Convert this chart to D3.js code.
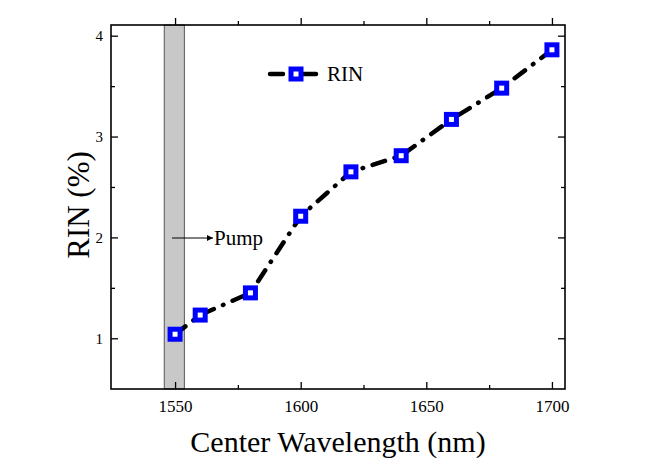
<!DOCTYPE html>
<html><head><meta charset="utf-8">
<script src="https://cdn.jsdelivr.net/npm/d3@7"></script>
<style>body{margin:0;background:#fff}svg{display:block}text{font-family:"Liberation Serif","Times New Roman",serif !important}</style>
</head><body><svg id="c" width="659" height="476"></svg>
<script>
const wavelengths = [1550, 1560, 1580, 1600, 1620, 1640, 1660, 1680, 1700];
const rinValues = [1.04, 1.23, 1.45, 2.21, 2.65, 2.81, 3.17, 3.48, 3.86];
const xTicks = [1550, 1600, 1650, 1700];
const xMinor = [1575, 1625, 1675];
const yTicks = [1, 2, 3, 4];
const yMinor = [1.5, 2.5, 3.5];
const pumpBand = [1545.7, 1553.7];
const seriesName = "RIN";

const svg = d3.select("#c");
const L = 111, R = 565, T = 25, B = 389;
const x = d3.scaleLinear().domain([1524.5, 1705.2]).range([L, R]);
const y = d3.scaleLinear().domain([0.497, 4.106]).range([B, T]);

// pump band
svg.append("rect").attr("x", x(pumpBand[0])).attr("y", T).attr("width", x(pumpBand[1]) - x(pumpBand[0])).attr("height", B - T)
  .attr("fill", "#c8c8c8").attr("stroke", "#555").attr("stroke-width", 1);

// axes (ticks inward)
const g = svg.append("g");
function ax(axisGen, tx, ty, vals, len, pad, fs, fmt) {
  const a = g.append("g").attr("transform", `translate(${tx},${ty})`)
    .call(axisGen.tickValues(vals).tickSize(len).tickPadding(pad).tickFormat(fmt));
  a.select(".domain").remove();
  a.selectAll("line").attr("stroke", "#000").attr("stroke-width", 1.3);
  a.selectAll("text").attr("font-size", fs).attr("fill", "#000");
  return a;
}
const none = () => "";
ax(d3.axisBottom(x), 0, B, xTicks, -7, 11, 17, d3.format("d"));
ax(d3.axisBottom(x), 0, B, xMinor, -4, 11, 17, none);
ax(d3.axisTop(x), 0, T, xTicks, 7, 3, 17, none);
ax(d3.axisTop(x), 0, T, xMinor, 4, 3, 17, none);
ax(d3.axisLeft(y), L, 0, yTicks, -7, 8, 15, d3.format("d"));
ax(d3.axisLeft(y), L, 0, yMinor, -4, 8, 15, none);
ax(d3.axisRight(y), R, 0, yTicks, -7, 3, 15, none);
ax(d3.axisRight(y), R, 0, yMinor, -4, 3, 15, none);

// frame
svg.append("rect").attr("x", L).attr("y", T).attr("width", R - L).attr("height", B - T)
  .attr("fill", "none").attr("stroke", "#000").attr("stroke-width", 1.6);

// line
const data = wavelengths.map((w, i) => ({w, v: rinValues[i]}));
svg.append("path").datum(data)
  .attr("d", d3.line().x(d => x(d.w)).y(d => y(d.v)))
  .attr("fill", "none").attr("stroke", "#000").attr("stroke-width", 4.5)
  .attr("stroke-linecap", "round").attr("stroke-dasharray", "13,10,0.5,10");

// markers
const ms = 10;
svg.append("g").selectAll("rect").data(data).join("rect")
  .attr("x", d => x(d.w) - ms / 2).attr("y", d => y(d.v) - ms / 2)
  .attr("width", ms).attr("height", ms)
  .attr("fill", "#fff").attr("stroke", "#0000ff").attr("stroke-width", 5);

// legend
const lg = svg.append("g");
lg.append("line").attr("x1", 270).attr("x2", 322).attr("y1", 74).attr("y2", 74)
  .attr("stroke", "#000").attr("stroke-width", 4.5).attr("stroke-linecap", "round").attr("stroke-dasharray", "13,20");
lg.append("rect").attr("x", 296 - ms / 2).attr("y", 74 - ms / 2).attr("width", ms).attr("height", ms)
  .attr("fill", "#fff").attr("stroke", "#0000ff").attr("stroke-width", 5);
lg.append("text").attr("x", 327).attr("y", 81).attr("font-size", 21).text(seriesName);

// pump annotation
svg.append("defs").append("marker").attr("id", "ah").attr("viewBox", "0 0 10 10").attr("refX", 10).attr("refY", 5)
  .attr("markerWidth", 10).attr("markerHeight", 6).attr("markerUnits", "userSpaceOnUse").attr("orient", "auto")
  .append("path").attr("d", "M0,0 L10,5 L0,10 Z").attr("fill", "#000");
svg.append("line").attr("x1", 172).attr("x2", 213).attr("y1", 238).attr("y2", 238)
  .attr("stroke", "#000").attr("stroke-width", 1).attr("marker-end", "url(#ah)");
svg.append("text").attr("x", 214).attr("y", 245).attr("font-size", 21).text("Pump");

// axis titles
svg.append("text").attr("x", 338).attr("y", 452).attr("text-anchor", "middle").attr("font-size", 30).text("Center Wavelength (nm)");
svg.append("text").attr("transform", "translate(89,205) rotate(-90)").attr("text-anchor", "middle").attr("font-size", 31).text("RIN (%)");
</script></body></html>
